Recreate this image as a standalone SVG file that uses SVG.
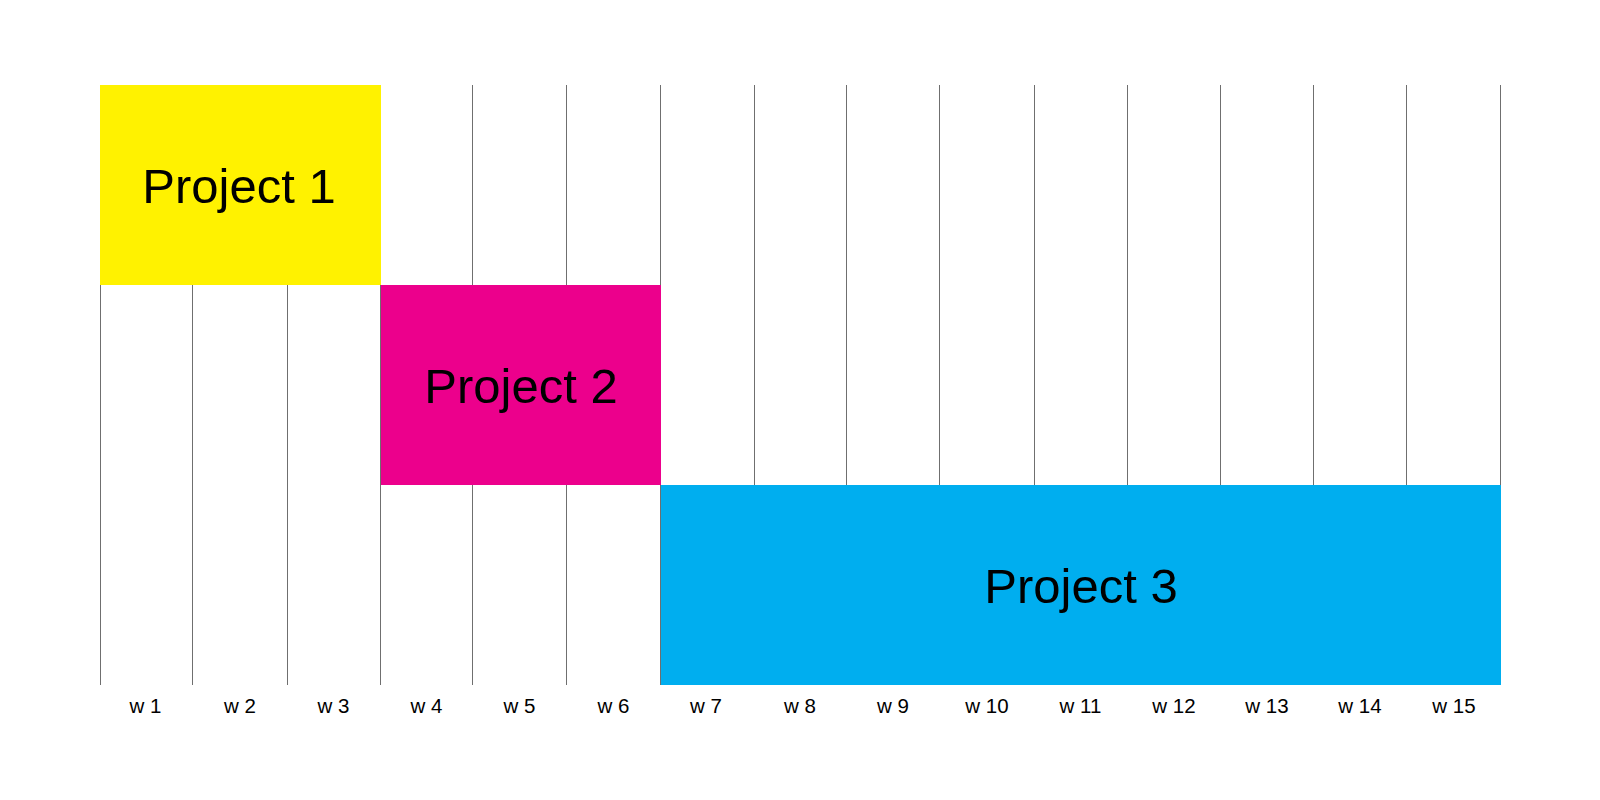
<svg xmlns="http://www.w3.org/2000/svg" width="1600" height="800" viewBox="0 0 1600 800">
<style>
.grid line{stroke:#6f6f6f;stroke-width:1}
.lbl{font-family:"Liberation Sans",Arial,sans-serif;font-size:20.5px;fill:#000;text-anchor:middle}
.ptxt{font-family:"Liberation Sans",Arial,sans-serif;font-size:49px;fill:#000;text-anchor:middle}
</style>
<rect width="1600" height="800" fill="#fff"/>
<g id="grid" class="grid">
<line x1="100.5" y1="85" x2="100.5" y2="685"/>
<line x1="192.5" y1="85" x2="192.5" y2="685"/>
<line x1="287.5" y1="85" x2="287.5" y2="685"/>
<line x1="380.5" y1="85" x2="380.5" y2="685"/>
<line x1="472.5" y1="85" x2="472.5" y2="685"/>
<line x1="566.5" y1="85" x2="566.5" y2="685"/>
<line x1="660.5" y1="85" x2="660.5" y2="685"/>
<line x1="754.5" y1="85" x2="754.5" y2="685"/>
<line x1="846.5" y1="85" x2="846.5" y2="685"/>
<line x1="939.5" y1="85" x2="939.5" y2="685"/>
<line x1="1034.5" y1="85" x2="1034.5" y2="685"/>
<line x1="1127.5" y1="85" x2="1127.5" y2="685"/>
<line x1="1220.5" y1="85" x2="1220.5" y2="685"/>
<line x1="1313.5" y1="85" x2="1313.5" y2="685"/>
<line x1="1406.5" y1="85" x2="1406.5" y2="685"/>
<line x1="1500.5" y1="85" x2="1500.5" y2="685"/>
</g>
<g id="project1">
<rect x="100" y="85" width="281" height="200" fill="#FFF200"/>
<text class="ptxt" x="239" y="203">Project 1</text>
</g>
<g id="project2">
<rect x="381" y="285" width="280" height="200" fill="#EC008C"/>
<text class="ptxt" x="521" y="403">Project 2</text>
</g>
<g id="project3">
<rect x="661" y="485" width="840" height="200" fill="#00AEEF"/>
<text class="ptxt" x="1081" y="603">Project 3</text>
</g>
<g id="labels">
<text class="lbl" x="145.5" y="713">w 1</text>
<text class="lbl" x="240" y="713">w 2</text>
<text class="lbl" x="333.5" y="713">w 3</text>
<text class="lbl" x="426.5" y="713">w 4</text>
<text class="lbl" x="519.5" y="713">w 5</text>
<text class="lbl" x="613.5" y="713">w 6</text>
<text class="lbl" x="706" y="713">w 7</text>
<text class="lbl" x="800" y="713">w 8</text>
<text class="lbl" x="893" y="713">w 9</text>
<text class="lbl" x="987" y="713">w 10</text>
<text class="lbl" x="1080.5" y="713">w 11</text>
<text class="lbl" x="1174" y="713">w 12</text>
<text class="lbl" x="1267" y="713">w 13</text>
<text class="lbl" x="1360" y="713">w 14</text>
<text class="lbl" x="1454" y="713">w 15</text>
</g>
</svg>
